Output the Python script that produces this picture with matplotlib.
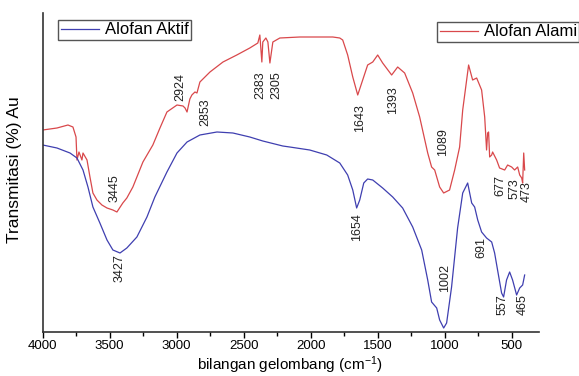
import matplotlib
matplotlib.use("Agg")
import matplotlib.pyplot as plt
from matplotlib.ticker import MultipleLocator

plt.rcParams['font.family'] = ['Liberation Sans', 'DejaVu Sans']
plt.rcParams['mathtext.fontset'] = 'custom'
plt.rcParams['mathtext.rm'] = 'Liberation Sans'
plt.rcParams['mathtext.default'] = 'regular'

# Alofan Alam (red)
alam_wn = [3998, 3892, 3810, 3773, 3750, 3743, 3728, 3706, 3698, 3668, 3646, 3624,
           3594, 3557, 3519, 3475, 3445, 3401, 3371, 3326, 3251, 3177, 3124, 3072,
           2997, 2952, 2937, 2922, 2901, 2886, 2863, 2848, 2826, 2751, 2654, 2551,
           2454, 2394, 2379, 2364, 2357, 2334, 2319, 2304, 2282, 2230, 2081, 1835,
           1783, 1761, 1724, 1686, 1649, 1612, 1575, 1537, 1500, 1463, 1396, 1351,
           1299, 1239, 1187, 1127, 1098, 1075, 1038, 1008, 964, 926, 889, 866, 822,
           792, 762, 725, 702, 688, 680, 673, 665, 650, 643, 613, 591, 553, 531, 501,
           479, 456, 441, 426, 419, 411, 404]
alam_t = [202, 204, 207, 205, 195, 172, 180, 172, 179, 172, 155, 139,
          132, 127, 124, 122, 120, 129, 134, 145, 170, 187, 204, 220,
          227, 226, 224, 220, 233, 237, 240, 239, 250, 260, 270, 277,
          284, 289, 297, 270, 290, 294, 290, 269, 290, 294, 295, 295,
          294, 292, 277, 255, 237, 252, 267, 270, 277, 269, 257, 265,
          259, 239, 215, 179, 165, 162, 145, 139, 142, 162, 185, 222, 267,
          252, 254, 242, 215, 182, 199, 200, 175, 177, 180, 172, 164, 162, 167, 165,
          162, 165, 157, 154, 149, 179, 162]

# Alofan Aktif (blue)
aktif_wn = [3998, 3892, 3795, 3743, 3698, 3661, 3624, 3572, 3519, 3475, 3422, 3371,
            3296, 3221, 3162, 3072, 2997, 2922, 2826, 2699, 2580, 2454, 2357, 2208,
            2156, 2007, 1880, 1783, 1724, 1686, 1657, 1634, 1604, 1575, 1537, 1463,
            1388, 1314, 1239, 1172, 1127, 1098, 1060, 1038, 1008, 986, 949, 904, 866,
            829, 799, 777, 754, 725, 688, 650, 628, 606, 576, 561, 539, 516, 494, 464,
            441, 419, 404]
aktif_t = [187, 184, 179, 174, 162, 145, 125, 109, 92, 82, 79, 84,
           95, 115, 135, 160, 179, 190, 197, 200, 199, 195, 191, 186,
           185, 182, 177, 169, 157, 142, 124, 132, 149, 153, 152, 144,
           135, 124, 105, 82, 52, 30, 24, 12, 4, 9, 45, 104, 139,
           149, 129, 125, 112, 100, 94, 90, 79, 62, 39, 35, 52, 60, 52, 37,
           44, 47, 57]

# peak labels: (text, x, y)
alam_labels = [("3445", 3460, 144), ("2924", 2975, 245), ("2853", 2789, 220),
               ("2383", 2379, 247), ("2305", 2253, 247), ("1643", 1634, 214),
               ("1393", 1388, 232), ("1089", 1015, 190), ("677", 583, 146),
               ("573", 479, 143), ("473", 390, 140)]
aktif_labels = [("3427", 3422, 64), ("1654", 1656, 105), ("1002", 1001, 54),
                ("691", 725, 85), ("557", 568, 27), ("465", 419, 27)]

W, H = 579, 376
fig = plt.figure(figsize=(W / 100, H / 100), dpi=100)
ax = fig.add_axes([42.5 / W, 44 / H, 496.5 / W, 319 / H])

red = '#d9484b'
blue = '#3f3fb0'
l_alam, = ax.plot(alam_wn, alam_t, color=red, lw=0.9)
l_aktif, = ax.plot(aktif_wn, aktif_t, color=blue, lw=0.9)

for txt, x, y in alam_labels + aktif_labels:
    ax.text(x, y, txt, rotation=90, ha='center', va='center', fontsize=9, color='#222222')

ax.set_xlim(4000, 297)
ax.set_ylim(0, 319)
ax.set_yticks([])
ax.xaxis.set_major_locator(MultipleLocator(500))
ax.xaxis.set_minor_locator(MultipleLocator(250))
ax.tick_params(axis='x', which='major', direction='out', length=4, width=1, labelsize=9.5, pad=2)
ax.tick_params(axis='x', which='minor', direction='out', length=3, width=1)
for s in ['top', 'right']:
    ax.spines[s].set_visible(False)
for s in ['left', 'bottom']:
    ax.spines[s].set_linewidth(1.2)
    ax.spines[s].set_color('#333333')

fig.text(290 / W, 1 - 370 / H, 'bilangan gelombang (cm$^{-1}$)', ha='center', va='baseline',
         fontsize=11)
fig.text(15 / W, 1 - 170 / H, 'Transmitasi (%) Au', rotation=90, ha='center', va='center',
         fontsize=12.5)

common = dict(fontsize=12, frameon=True, fancybox=False, framealpha=1, edgecolor='#555555',
              handlelength=2.3, handletextpad=0.35, borderpad=0.15, borderaxespad=0,
              bbox_transform=fig.transFigure, loc='upper left')
leg1 = ax.legend(handles=[l_aktif], labels=['Alofan Aktif'],
                 bbox_to_anchor=(58 / W, 1 - 20 / H), **common)
leg1.get_frame().set_linewidth(1.0)
ax.add_artist(leg1)
leg2 = ax.legend(handles=[l_alam], labels=['Alofan Alami'],
                 bbox_to_anchor=(437 / W, 1 - 22 / H), **common)
leg2.get_frame().set_linewidth(1.0)

fig.savefig('out.png', dpi=100)
